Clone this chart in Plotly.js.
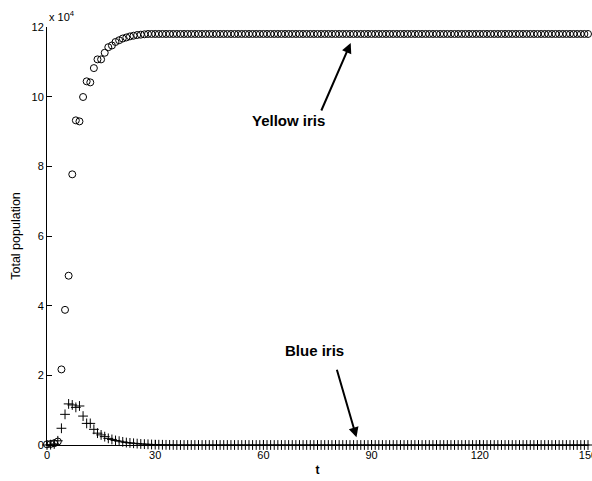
<!DOCTYPE html>
<html>
<head>
<meta charset="utf-8">
<script src="https://cdn.plot.ly/plotly-3.0.1.min.js"></script>
<style>html,body{margin:0;padding:0;background:#fff;}#chart{width:592px;height:481px;}</style>
</head>
<body>
<div id="chart"></div>
<script>
// time steps
const t = [0,1,2,3,4,5,6,7,8,9,10,11,12,13,14,15,16,17,18,19,20,21,22,23,24,25,26,27,28,29,
30,31,32,33,34,35,36,37,38,39,40,41,42,43,44,45,46,47,48,49,50,51,52,53,54,55,56,57,58,59,
60,61,62,63,64,65,66,67,68,69,70,71,72,73,74,75,76,77,78,79,80,81,82,83,84,85,86,87,88,89,
90,91,92,93,94,95,96,97,98,99,100,101,102,103,104,105,106,107,108,109,110,111,112,113,114,115,116,117,118,119,
120,121,122,123,124,125,126,127,128,129,130,131,132,133,134,135,136,137,138,139,140,141,142,143,144,145,146,147,148,149,150];

// Yellow iris total population (circles)
const yellowIris = [200,300,500,1000,21700,38800,48600,77700,93200,92900,
99900,104400,104100,108200,110700,110700,112600,114200,114700,115700,
116200,116700,117000,117300,117500,117700,117800,117900,118000,
118000,118000,118000,118000,118000,118000,118000,118000,118000,118000,
118000,118000,118000,118000,118000,118000,118000,118000,118000,118000,
118000,118000,118000,118000,118000,118000,118000,118000,118000,118000,
118000,118000,118000,118000,118000,118000,118000,118000,118000,118000,
118000,118000,118000,118000,118000,118000,118000,118000,118000,118000,
118000,118000,118000,118000,118000,118000,118000,118000,118000,118000,
118000,118000,118000,118000,118000,118000,118000,118000,118000,118000,
118000,118000,118000,118000,118000,118000,118000,118000,118000,118000,
118000,118000,118000,118000,118000,118000,118000,118000,118000,118000,
118000,118000,118000,118000,118000,118000,118000,118000,118000,118000,
118000,118000,118000,118000,118000,118000,118000,118000,118000,118000,
118000,118000,118000,118000,118000,118000,118000,118000,118000,118000,
118000,118000];

// Blue iris total population (crosses)
const blueIris = [0,100,300,1200,4800,8800,11800,11500,10800,11200,
8300,6200,6200,4500,3400,2900,2400,1900,1600,1300,
1100,900,700,600,500,400,300,250,200,150,
100,80,60,40,30,20,
0,0,0,0,0,0,0,0,0,0,
0,0,0,0,0,0,0,0,0,0,
0,0,0,0,0,0,0,0,0,0,
0,0,0,0,0,0,0,0,0,0,
0,0,0,0,0,0,0,0,0,0,
0,0,0,0,0,0,0,0,0,0,
0,0,0,0,0,0,0,0,0,0,
0,0,0,0,0,0,0,0,0,0,
0,0,0,0,0,0,0,0,0,0,
0,0,0,0,0,0,0,0,0,0,
0,0,0,0,0,0,0,0,0,0,
0,0,0,0,0];

const xTicks = [0,30,60,90,120,150];
const yTicks = [0,20000,40000,60000,80000,100000,120000];
const yTickText = ['0','2','4','6','8','10','12'];

const FONT = 'Liberation Sans, Arial, Helvetica, sans-serif';

const traces = [
  {x: t, y: yellowIris, type: 'scatter', mode: 'markers', cliponaxis: false,
   marker: {symbol: 'circle-open', size: 7, color: '#000', line: {width: 1, color: '#000'}}},
  {x: t, y: blueIris, type: 'scatter', mode: 'markers', cliponaxis: false,
   marker: {symbol: 'cross-thin-open', size: 7, color: '#000', line: {width: 1, color: '#000'}}}
];

const layout = {
  width: 592, height: 481,
  margin: {l: 47, r: 4, t: 27, b: 36},
  paper_bgcolor: '#fff', plot_bgcolor: '#fff',
  showlegend: false,
  font: {family: FONT, size: 11, color: '#000'},
  xaxis: {
    range: [0, 150], tickvals: xTicks, ticks: 'inside', ticklen: 5, tickcolor: '#000',
    showline: true, linecolor: '#000', linewidth: 1, showgrid: false, zeroline: false,
    ticklabeloverflow: 'allow',
    tickfont: {family: FONT, size: 11, color: '#000'},
    title: {text: '<b>t</b>', font: {family: FONT, size: 12, color: '#000'}, standoff: 5}
  },
  yaxis: {
    range: [0, 120000], tickvals: yTicks, ticktext: yTickText, ticks: 'inside', ticklen: 5, tickcolor: '#000',
    showline: true, linecolor: '#000', linewidth: 1, showgrid: false, zeroline: false,
    tickfont: {family: FONT, size: 11, color: '#000'},
    title: {text: 'Total population', font: {family: FONT, size: 12.5, color: '#000'}, standoff: 8}
  },
  annotations: [
    {xref: 'paper', yref: 'paper', x: 0, y: 1, xanchor: 'left', yanchor: 'bottom', yshift: 2,
     text: 'x 10<sup>4</sup>', showarrow: false, font: {family: FONT, size: 11, color: '#000'}},
    {xref: 'x', yref: 'y', x: 67, y: 93200, text: '<b>Yellow iris</b>', showarrow: false,
     font: {family: FONT, size: 15, color: '#000'}},
    {xref: 'x', yref: 'y', x: 84.2, y: 115400, text: '', showarrow: true,
     ax: -30, ay: 69, arrowhead: 2, arrowsize: 1, arrowwidth: 2, arrowcolor: '#000'},
    {xref: 'x', yref: 'y', x: 74.3, y: 27050, text: '<b>Blue iris</b>', showarrow: false,
     font: {family: FONT, size: 15, color: '#000'}},
    {xref: 'x', yref: 'y', x: 85.8, y: 2200, text: '', showarrow: true,
     ax: -20, ay: -69, arrowhead: 2, arrowsize: 1, arrowwidth: 2, arrowcolor: '#000'}
  ]
};

Plotly.newPlot('chart', traces, layout, {displayModeBar: false, staticPlot: true});
</script>
</body>
</html>
